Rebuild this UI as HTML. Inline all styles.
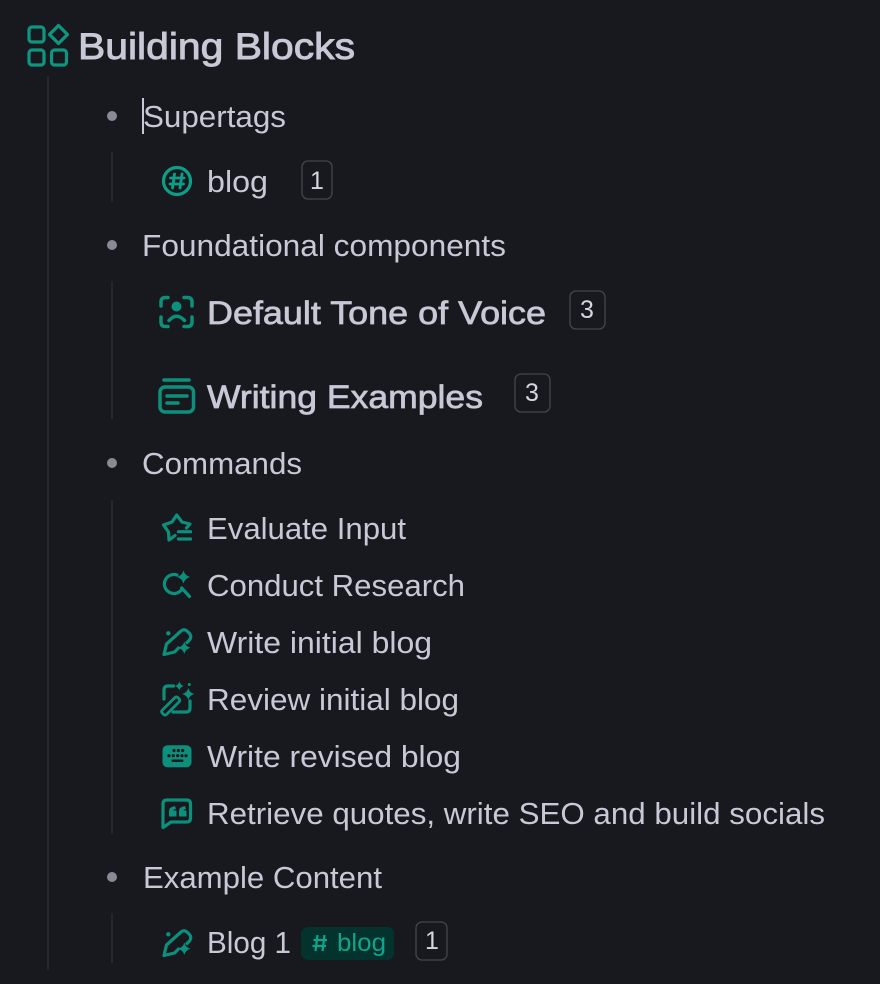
<!DOCTYPE html>
<html><head><meta charset="utf-8">
<style>
html,body{margin:0;padding:0;background:#18191f;width:880px;height:984px;overflow:hidden}
svg{display:block}
text{font-family:"Liberation Sans",sans-serif;fill:#c9c8d6;font-size:30.5px}
.h{font-size:37px;stroke:#c9c8d6;stroke-width:.9px}
.b{font-size:32.5px;stroke:#c9c8d6;stroke-width:.7px}
.n{font-size:25px;fill:#d6d5e0}
.i{fill:none;stroke:#0c8f7b;stroke-width:3.2;stroke-linecap:round;stroke-linejoin:round}
.f{fill:#0c8f7b}
.bx{fill:none;stroke:#44454e;stroke-width:1.3}
</style></head><body>
<svg width="880" height="984" viewBox="0 0 880 984" xmlns="http://www.w3.org/2000/svg">
<rect width="880" height="984" fill="#18191f"/>
<!-- guide lines -->
<g fill="#26272e">
<rect x="47" y="76" width="2" height="894"/>
<rect x="111" y="152" width="2" height="50"/>
<rect x="111" y="281" width="2" height="138"/>
<rect x="111" y="500" width="2" height="334"/>
<rect x="111" y="913" width="2" height="50"/>
</g>
<!-- bullets -->
<g fill="#8a8996">
<circle cx="112" cy="116" r="5"/>
<circle cx="112" cy="245" r="5"/>
<circle cx="112" cy="463" r="5"/>
<circle cx="112" cy="877" r="5"/>
</g>
<!-- header icon -->
<g class="i" style="stroke:#0d9681">
<rect x="29" y="27" width="15" height="15" rx="3"/>
<rect x="29" y="50" width="15" height="15" rx="3"/>
<rect x="51.500" y="50" width="15" height="15" rx="3"/>
<path d="M58.500 25.500 L67.500 34.500 L58.500 43.500 L49.500 34.500 Z"/>
</g>
<text class="h" x="78" y="59" textLength="277" lengthAdjust="spacingAndGlyphs">Building Blocks</text>
<!-- Supertags -->
<rect x="142" y="98" width="2" height="36" fill="#c9c8d6"/>
<text x="143" y="127" textLength="143" lengthAdjust="spacingAndGlyphs">Supertags</text>
<circle cx="177" cy="181" r="13.500" fill="none" stroke="#0d9e88" stroke-width="3.200"/>
<path d="M174.500 174 L172.500 188 M182 174 L180 188 M170.500 178 H184 M170 184 H183.500" fill="none" stroke="#0d9e88" stroke-width="2.800" stroke-linecap="round"/>
<text x="207" y="192" textLength="61" lengthAdjust="spacingAndGlyphs">blog</text>
<rect class="bx" x="302" y="161" width="30" height="38" rx="6"/>
<text class="n" x="317" y="189" text-anchor="middle">1</text>
<!-- Foundational -->
<text x="142" y="256" textLength="364" lengthAdjust="spacingAndGlyphs">Foundational components</text>
<!-- Tone icon -->
<g class="i" style="stroke-width:3.500">
<path d="M161 306 V302 Q161 297.500 165.500 297.500 H168"/>
<path d="M184 297.500 H187.500 Q192 297.500 192 302 V306"/>
<path d="M161 317 V322 Q161 326.500 165.500 326.500 H168"/>
<path d="M192 317 V322 Q192 326.500 187.500 326.500 H184"/>
<path d="M169 320.500 Q176.500 312 184.500 320.500"/>
</g>
<circle class="f" cx="176.500" cy="306.500" r="5"/>
<text class="b" x="207" y="324" textLength="339" lengthAdjust="spacingAndGlyphs">Default Tone of Voice</text>
<rect class="bx" x="570" y="291" width="35" height="38" rx="6"/>
<text class="n" x="587" y="318" text-anchor="middle">3</text>
<!-- Writing examples icon -->
<g class="i" style="stroke-width:3.500">
<path d="M164 380 H189"/>
<rect x="160" y="387" width="33.500" height="25" rx="5"/>
<path d="M167 396 H187 M167 403 H178"/>
</g>
<text class="b" x="207" y="408" textLength="276" lengthAdjust="spacingAndGlyphs">Writing Examples</text>
<rect class="bx" x="515" y="374" width="35" height="38" rx="6"/>
<text class="n" x="532" y="401" text-anchor="middle">3</text>
<!-- Commands -->
<text x="142" y="474" textLength="160" lengthAdjust="spacingAndGlyphs">Commands</text>
<!-- Evaluate -->
<g class="i">
<path d="M175 535.500 L169 540 L168.500 532 L163.500 525 L172 522 L176.700 515 L182 522 L190 524 L186.500 528"/>
<path d="M178.500 531.700 H190.500 M178.500 539 H190.500"/>
</g>
<text x="207" y="539" textLength="199" lengthAdjust="spacingAndGlyphs">Evaluate Input</text>
<!-- Research -->
<g class="i">
<path d="M177 575 A9.500 9.500 0 1 0 182 589"/>
<path d="M181.700 588 L189.500 596.500"/>
</g>
<path class="f" d="M183.500 570.500 Q184.800 575.500 190 577 Q184.800 578.500 183.500 583.500 Q182.200 578.500 177 577 Q182.200 575.500 183.500 570.500 Z"/>
<text x="207" y="596" textLength="258" lengthAdjust="spacingAndGlyphs">Conduct Research</text>
<!-- Write initial blog -->
<path class="i" d="M164 654.500 L166.500 644 L181 631 Q184 628.500 187 631 L189.500 633.500 Q192 636.500 189.500 640 L187 642.500 M164 654.500 L174.500 652 L178.500 648"/>
<circle class="f" cx="168.300" cy="633.300" r="2.200"/>
<path class="f" d="M184.300 641.500 Q185.500 646.500 190.500 647.700 Q185.500 649 184.300 654 Q183 649 178 647.700 Q183 646.500 184.300 641.500 Z"/>
<text x="207" y="653" textLength="225" lengthAdjust="spacingAndGlyphs">Write initial blog</text>
<!-- Review -->
<g class="i">
<path d="M164 699 V690 Q164 686 168 686 H173.500"/>
<path d="M190 701 V708 Q190 712 186 712 H173"/>
</g>
<rect x="159.700" y="703" width="22" height="6" rx="2" transform="rotate(-45 170.700 706)" fill="none" stroke="#0c8f7b" stroke-width="2.800"/>
<path class="f" d="M179.300 681.500 Q180.300 685 183.800 686 Q180.300 687 179.300 690.500 Q178.300 687 174.800 686 Q178.300 685 179.300 681.500 Z"/>
<path class="f" d="M188.300 688 Q189.500 692.800 194.300 694 Q189.500 695.200 188.300 700 Q187 695.200 182.300 694 Q187 692.800 188.300 688 Z"/>
<circle class="f" cx="189.300" cy="684.500" r="1.500"/>
<text x="207" y="710" textLength="252" lengthAdjust="spacingAndGlyphs">Review initial blog</text>
<!-- Keyboard -->
<rect class="f" x="162.500" y="745.300" width="29" height="22" rx="5"/>
<g fill="#18191f">
<circle cx="174" cy="750.500" r="1.600"/><circle cx="178.300" cy="750.500" r="1.600"/><circle cx="182.700" cy="750.500" r="1.600"/>
<circle cx="169" cy="755.700" r="1.600"/><circle cx="173.300" cy="755.700" r="1.600"/><circle cx="177.700" cy="755.700" r="1.600"/><circle cx="182" cy="755.700" r="1.600"/><circle cx="186" cy="755.700" r="1.600"/>
<rect x="171.500" y="759.500" width="12" height="2.500" rx="1.200"/>
</g>
<text x="207" y="767" textLength="254" lengthAdjust="spacingAndGlyphs">Write revised blog</text>
<!-- Quotes -->
<path class="i" d="M163 827.500 V804 Q163 800 167 800 H186.500 Q190.500 800 190.500 804 V818 Q190.500 822 186.500 822 H171 Z"/>
<path class="f" d="M169 816.500 V811 Q169 807 175 806 L176 809 Q173.500 809.500 173.500 810.500 H176.500 V816.500 Z M179 816.500 V811 Q179 807 185 806 L186 809 Q183.500 809.500 183.500 810.500 H186.500 V816.500 Z"/>
<text x="207" y="824" textLength="618" lengthAdjust="spacingAndGlyphs">Retrieve quotes, write SEO and build socials</text>
<!-- Example Content -->
<text x="143" y="888" textLength="239" lengthAdjust="spacingAndGlyphs">Example Content</text>
<!-- Blog 1 -->
<path class="i" d="M164 955.500 L166.500 945 L181 932 Q184 929.500 187 932 L189.500 934.500 Q192 937.500 189.500 941 L187 943.500 M164 955.500 L174.500 953 L178.500 949"/>
<circle class="f" cx="168.300" cy="934.300" r="2.200"/>
<path class="f" d="M184.300 942.500 Q185.500 947.500 190.500 948.700 Q185.500 950 184.300 955 Q183 950 178 948.700 Q183 947.500 184.300 942.500 Z"/>
<text x="207" y="953" textLength="84" lengthAdjust="spacingAndGlyphs">Blog 1</text>
<rect x="301" y="927" width="93" height="33" rx="7" fill="#04332d"/>
<path d="M317.500 935 L315.500 951 M324.500 935 L322.500 951 M313.500 940 H327 M312.500 946 H326" fill="none" stroke="#0fa48c" stroke-width="2.200"/>
<text x="337" y="951" style="fill:#0fa48c;font-size:25px" textLength="49" lengthAdjust="spacingAndGlyphs">blog</text>
<rect class="bx" x="416" y="922" width="31" height="38" rx="6"/>
<text class="n" x="432" y="949" text-anchor="middle">1</text>
</svg>
</body></html>
